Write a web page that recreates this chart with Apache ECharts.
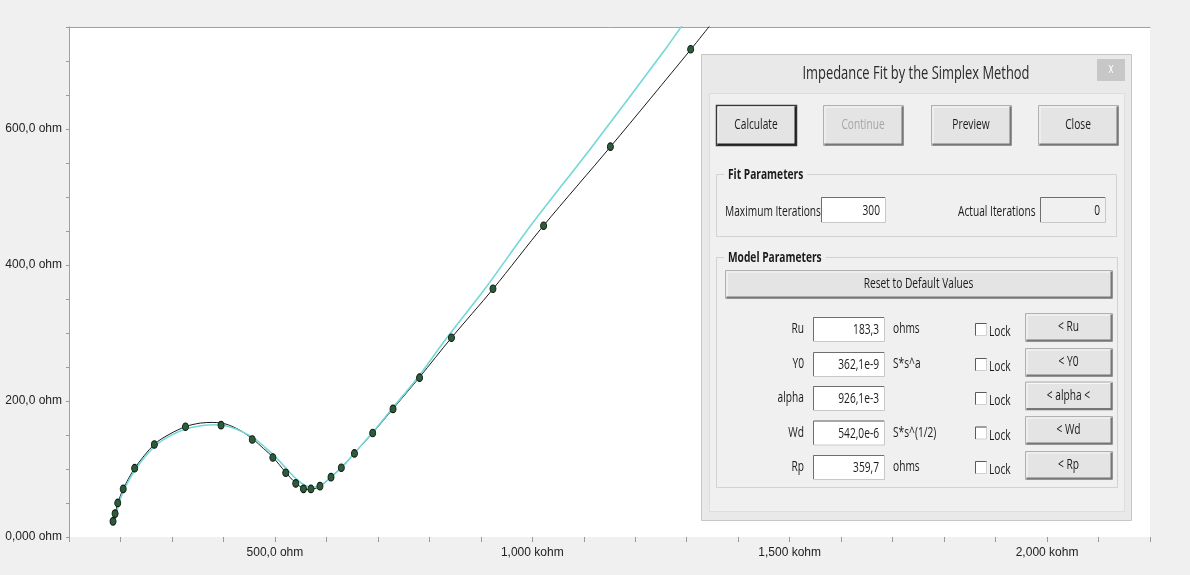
<!DOCTYPE html>
<html><head><meta charset="utf-8">
<script src="https://cdn.jsdelivr.net/npm/echarts@6/dist/echarts.min.js"></script>
<style>html,body{margin:0;padding:0;background:#f0f0f0;}#chart{width:1190px;height:575px;}</style>
</head><body><div id="chart"></div>
<script>
// ---- data (ohm) ----
const measRe = [185.5,189.5,194.7,205.3,227.6,265.8,326.3,395.4,456,496,521,540.5,555.5,570,587.5,609,629,654.5,690,729.5,781,843,923.6,1022,1151.7,1307.7];
const measIm = [23,34.4,50.1,70.7,101.2,136,162.1,164.5,143.4,117,94.4,78.8,70.8,70.7,74.8,88,101.8,122.9,152.9,188.4,234.3,293.1,365.1,457.8,574,717.2];
const fitRe = [186,190,195,205.5,228,266,296,327,355,380,405,432,458,478,496,521,540,555,564,575,588,609,629,654,690,730,781,843,924,1022,1152,1308,1345];
const fitIm = [22,35,50,71,101.5,136.5,151.5,162.5,167.5,168.5,166,157,143.5,130,117.5,95,79.5,71.5,69.8,70.5,74.8,88,102,123,153,189,235,293,365,458,574,717,752];
const simRe = [188,192,197,207.5,230,268,298,330,360,385,410,436,462,482,500,524,542,557,570,582,594,612,632,656,690,728,778,834,908,997,1116,1258,1291];
const simIm = [21,34,49.5,70.5,100.5,134.5,149.5,159.5,164,165,162.5,155,144,131,119,99,85,76.5,73.5,74,78.5,90,104,124.5,154,189,235,293,365,458,574,717,752];
const xLabelValues = [500,1000,1500,2000];
const xLabelTexts = ['500,0 ohm','1,000 kohm','1,500 kohm','2,000 kohm'];
const yLabelValues = [0,200,400,600];
const yLabelTexts = ['0,000 ohm','200,0 ohm','400,0 ohm','600,0 ohm'];
// ---- dialog texts ----
const dialogTitle = 'Impedance Fit by the Simplex Method';
const topButtons = ['Calculate','Continue','Preview','Close'];
const paramNames = ['Ru','Y0','alpha','Wd','Rp'];
const paramValues = ['183,3','362,1e-9','926,1e-3','542,0e-6','359,7'];
const paramUnits = ['ohms','S*s^a','','S*s^(1/2)','ohms'];
const paramButtons = ['< Ru','< Y0','< alpha <','< Wd','< Rp'];
const maxIterations = '300', actualIterations = '0';

const UIFONT = '"Open Sans", "Noto Sans", sans-serif';
const mctx = document.createElement('canvas').getContext('2d');
function mw(str, font){ mctx.font = font; return mctx.measureText(str).width; }
const SQ = 227 / mw(dialogTitle, '19px ' + UIFONT);

const G = [];
function R(x,y,w,h,fill,stroke,lw,z){ G.push({type:'rect',z:z||100,silent:true,shape:{x:x,y:y,width:w,height:h},style:{fill:fill,stroke:stroke||null,lineWidth:lw||1}}); }
function L(pts,color,lw,z){ G.push({type:'polyline',z:z||104,silent:true,shape:{points:pts},style:{stroke:color,lineWidth:lw||1,fill:null}}); }
function T(x,y,text,o){ o=o||{}; const size=o.size||15; const f=(o.bold?'bold ':'')+size+'px '+UIFONT;
  G.push({type:'text',z:110,silent:true,x:x,y:y,scaleX:SQ,style:{text:text,x:0,y:0,font:f,fill:o.color||'#1a1a1a',align:o.align||'left',verticalAlign:'middle'}});
  return mw(text,f)*SQ; }
function BTN(x,y,w,h,label,o){ o=o||{};
  R(x+0.5,y+0.5,w,h,'#e4e4e4',o.focus?'#3a3a3a':'#b0b0b0',o.focus?1.5:1,103);
  L([[x+1.5,y+h-0.5],[x+w-0.5,y+h-0.5],[x+w-0.5,y+1.5]],o.focus?'#222':'#767676',2,104);
  L([[x+2,y+h-2],[x+2,y+2],[x+w-2,y+2]],'#f7f7f7',1,104);
  T(x+w/2,y+h/2,label,{align:'center',color:o.color,size:o.size}); }
function INP(x,y,w,h,val,fill){
  R(x+0.5,y+0.5,w,h,fill||'#ffffff','#c8c8c8',1,103);
  L([[x+0.5,y+h],[x+0.5,y+0.5],[x+w,y+0.5]],'#6e6e6e',1,104);
  T(x+w-5,y+h/2+1,val,{align:'right'}); }
function GROUP(x,y,w,h,title){
  R(x+0.5,y+0.5,w,h,null,'#d2d2d2',1,101);
  const tw = T(x+12,y+1,title,{bold:true,size:15});
  R(x+8,y-8,tw+8,16,'#f0f0f0',null,1,102); }

// dialog frame
R(701.5,54.5,430,466,'#e9e9e9','#c6c6c6',1,100);
R(709.5,93.5,415,418,'#f0f0f0','#dddddd',1,100);
T(916,74,dialogTitle,{size:19,align:'center',color:'#2a2a2a'});
R(1097,59,28,22,'#c7c7c7',null,1,103);
T(1111,69,'x',{size:14,align:'center',color:'#ffffff'});
// buttons row
const btnX = [716,823,931,1038];
topButtons.forEach((b,i)=>BTN(btnX[i],105,80,40,b,{focus:i===0,color:i===1?'#a6a6a6':'#1a1a1a'}));
// fit parameters
GROUP(716,174,400,62,'Fit Parameters');
T(725,212,'Maximum Iterations',{size:15});
INP(821,197,64,25,maxIterations);
T(958,212,'Actual Iterations',{size:15});
INP(1040,197,65,25,actualIterations,'#f0f0f0');
// model parameters
GROUP(716,257,401,230,'Model Parameters');
BTN(725,270,387,28,'Reset to Default Values');
const rowY = [329,364,398,432.5,467];
const btnY = [327,362,395.5,430,465];
paramNames.forEach((n,i)=>{
  const cy=rowY[i];
  T(804,cy,n,{align:'right'});
  INP(813,cy-12,71,24,paramValues[i]);
  if(paramUnits[i]) T(893,cy,paramUnits[i]);
  R(975.5,cy-5.5,11,12,'#ffffff','#d0d0d0',1,103);
  L([[975.5,cy+6.5],[975.5,cy-5.5],[986.5,cy-5.5]],'#5a5a5a',1,104);
  T(989,cy+3,'Lock');
  BTN(1025,btnY[i]-14,87,28,paramButtons[i]);
});

const AXFONT = '"Liberation Sans", Arial, sans-serif';
function lbl(vals,txts){ return v=>{ const i=vals.findIndex(a=>Math.abs(a-v)<1e-6); return i<0?'':txts[i]; }; }

const chart = echarts.init(document.getElementById('chart'),null,{renderer:'canvas'});
chart.setOption({
  animation:false,
  backgroundColor:'#f0f0f0',
  grid:{left:69,right:40,top:27,bottom:38,show:true,backgroundColor:'#ffffff',borderWidth:0,containLabel:false,outerBoundsMode:'none'},
  xAxis:[{type:'value',min:100,max:2200,interval:100,
     axisLine:{show:false},
     axisTick:{show:true,length:5,lineStyle:{color:'#9a9a9a'}},
     axisLabel:{formatter:lbl(xLabelValues,xLabelTexts),margin:10,color:'#222',fontSize:12,fontFamily:AXFONT,hideOverlap:false},
     splitLine:{show:false}},
    {type:'value',position:'top',min:100,max:2200,axisLine:{show:true,onZero:false,lineStyle:{color:'#a0a0a0'}},axisTick:{show:false},axisLabel:{show:false},splitLine:{show:false}}],
  yAxis:{type:'value',min:0,max:750,interval:50,
     axisLine:{show:true,onZero:false,lineStyle:{color:'#a0a0a0'}},
     axisTick:{show:true,length:3,lineStyle:{color:'#9a9a9a'}},
     axisLabel:{formatter:lbl(yLabelValues,yLabelTexts),margin:7,color:'#222',fontSize:12,fontFamily:AXFONT,hideOverlap:false},
     splitLine:{show:false}},
  series:[
    {type:'line',name:'fit',data:fitRe.map((x,i)=>[x,fitIm[i]]),showSymbol:false,smooth:0.3,lineStyle:{color:'#1a1a1a',width:1},z:2},
    {type:'line',name:'simplex',data:simRe.map((x,i)=>[x,simIm[i]]),showSymbol:false,smooth:0.3,lineStyle:{color:'#72d8d8',width:1.6},z:3},
    {type:'scatter',name:'measured',data:measRe.map((x,i)=>[x,measIm[i]]),symbolSize:[6,7.5],itemStyle:{color:'#2e5b3c',borderColor:'#0e1d12',borderWidth:1,opacity:1},z:4}
  ],
  graphic:{elements:G}
});
</script></body></html>
